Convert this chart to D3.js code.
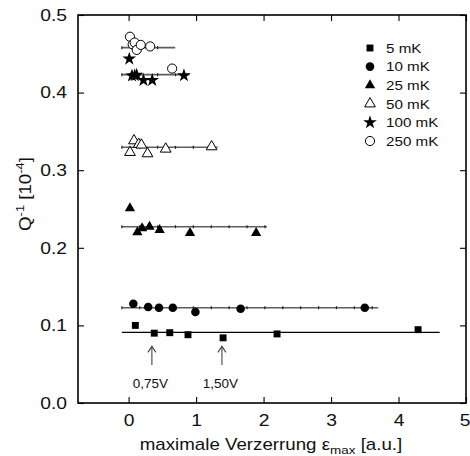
<!DOCTYPE html>
<html>
<head>
<meta charset="utf-8">
<script src="https://cdn.jsdelivr.net/npm/d3@7"></script>
<style>
  body { margin: 0; background: #fff; }
  svg { display: block; }
  text { font-family: "Liberation Sans", Arial, Helvetica, sans-serif; fill: #111; }
</style>
</head>
<body>
<svg id="chart" width="470" height="456"></svg>
<script>
// Internal friction Q^-1 versus maximum strain, one series per temperature
const tempLabels = ["5 mK", "10 mK", "25 mK", "50 mK", "100 mK", "250 mK"];

const strain5   = [0.10, 0.38, 0.61, 0.88, 1.40, 2.20, 4.29];
const q5        = [0.100, 0.090, 0.0906, 0.088, 0.084, 0.089, 0.0945];
const strain10  = [0.07, 0.29, 0.45, 0.655, 0.99, 1.66, 3.50];
const q10       = [0.128, 0.1237, 0.1228, 0.1228, 0.1173, 0.1215, 0.1228];
const strain25  = [0.02, 0.13, 0.20, 0.31, 0.46, 0.91, 1.89];
const q25       = [0.251, 0.220, 0.2251, 0.2272, 0.223, 0.2190, 0.2190];
const strain50  = [0.02, 0.08, 0.15, 0.19, 0.28, 0.55, 1.23];
const q50       = [0.323, 0.338, 0.3334, 0.3325, 0.3213, 0.3273, 0.3303];
const strain100 = [0.01, 0.05, 0.09, 0.12, 0.22, 0.35, 0.82];
const q100      = [0.4435, 0.4218, 0.4222, 0.4227, 0.4160, 0.4160, 0.4220];
const strain250 = [0.02, 0.06, 0.09, 0.12, 0.18, 0.32, 0.645];
const q250      = [0.472, 0.4622, 0.4645, 0.455, 0.4615, 0.4595, 0.4310];

// horizontal mean-value lines per temperature
const fitLevel = [0.0911, 0.1228, 0.2272, 0.3295, 0.4231, 0.4579];
const fitStart = [-0.1, -0.1, -0.1, -0.1, -0.1, -0.1];
const fitEnd   = [4.61, 3.70, 2.05, 1.32, 0.90, 0.69];

const xTicks = [0, 1, 2, 3, 4, 5];
const yTicks = [0.0, 0.1, 0.2, 0.3, 0.4, 0.5];

// drive-voltage markers
const arrowX      = [0.345, 1.383];
const arrowLabels = ["0,75V", "1,50V"];

const seriesX = [strain5, strain10, strain25, strain50, strain100, strain250];
const seriesY = [q5, q10, q25, q50, q100, q250];

const symbolTypes = [d3.symbolSquare, d3.symbolCircle, d3.symbolTriangle,
                     d3.symbolTriangle, d3.symbolStar, d3.symbolCircle];
const symbolSizes = [48, 58, 46, 50, 58, 66];
const symbolFilled = [true, true, true, false, true, false];

const svg = d3.select("#chart");
const margin = { left: 78, right: 4, top: 15, bottom: 53 };
const W = 470, H = 456;

const x = d3.scaleLinear().domain([-0.75, 5]).range([margin.left, W - margin.right]);
const y = d3.scaleLinear().domain([0, 0.5]).range([H - margin.bottom, margin.top]);

// the lettering is a slightly widened Helvetica-style face
const stretch = 1.17;
const tickFont = 16.5;
const titleFont = 16;

// frame
svg.append("rect")
  .attr("x", x(-0.75)).attr("y", y(0.5))
  .attr("width", x(5) - x(-0.75)).attr("height", y(0) - y(0.5))
  .attr("fill", "none").attr("stroke", "#000").attr("stroke-width", 1.6);

// axes with inward ticks
function styleAxis(g, showLabels, pad) {
  g.select(".domain").remove();
  g.selectAll(".tick line").attr("stroke", "#000").attr("stroke-width", 1.1);
  if (!showLabels) { g.selectAll(".tick text").remove(); return; }
  g.selectAll(".tick text")
    .attr("font-size", tickFont).attr("fill", "#111")
    .attr("font-family", '"Liberation Sans", Arial, sans-serif')
    .attr("transform", `scale(${stretch},1)`);
  if (pad) g.selectAll(".tick text").attr("x", -pad / stretch);
}

svg.append("g").attr("transform", `translate(0,${y(0)})`)
  .call(d3.axisBottom(x).tickValues(xTicks).tickFormat(d3.format("d"))
        .tickSizeInner(-6).tickSizeOuter(0).tickPadding(11))
  .call(g => styleAxis(g, true, 0))
  .call(g => g.selectAll(".tick text").filter(d => d === 5).attr("x", -1.2));

svg.append("g").attr("transform", `translate(0,${y(0.5)})`)
  .call(d3.axisTop(x).tickValues(xTicks).tickSizeInner(-6).tickSizeOuter(0))
  .call(g => styleAxis(g, false));

svg.append("g").attr("transform", `translate(${x(-0.75)},0)`)
  .call(d3.axisLeft(y).tickValues(yTicks).tickFormat(d3.format(".1f"))
        .tickSizeInner(-6).tickSizeOuter(0).tickPadding(11))
  .call(g => styleAxis(g, true, 11));

svg.append("g").attr("transform", `translate(${x(5)},0)`)
  .call(d3.axisRight(y).tickValues(yTicks).tickSizeInner(-6).tickSizeOuter(0))
  .call(g => styleAxis(g, false));

// axis titles
const xTitle = svg.append("g").attr("transform", `translate(271,450) scale(${stretch},1)`)
  .append("text").attr("text-anchor", "middle").attr("font-size", titleFont);
xTitle.append("tspan").text("maximale Verzerrung ε");
xTitle.append("tspan").attr("font-size", 11.5).attr("dy", 4).text("max");
xTitle.append("tspan").attr("dy", -4).text(" [a.u.]");

const yTitle = svg.append("g").attr("transform", `translate(31,194) rotate(-90) scale(${stretch},1)`)
  .append("text").attr("text-anchor", "middle").attr("font-size", titleFont);
yTitle.append("tspan").text("Q");
yTitle.append("tspan").attr("font-size", 11).attr("dy", -7).text("-1");
yTitle.append("tspan").attr("dy", 7).text(" [10");
yTitle.append("tspan").attr("font-size", 11).attr("dy", -7).text("-4");
yTitle.append("tspan").attr("dy", 7).text("]");

// mean-value lines with small marks along them
const tickStep = 0.265;
fitLevel.forEach((lvl, i) => {
  const g = svg.append("g");
  g.append("line")
    .attr("x1", x(fitStart[i])).attr("x2", x(fitEnd[i]))
    .attr("y1", y(lvl)).attr("y2", y(lvl))
    .attr("stroke", i === 0 ? "#000" : "#5e5e5e")
    .attr("stroke-width", i === 0 ? 1.3 : 1.6);
  if (i > 0) {
    const marks = d3.range(fitStart[i], fitEnd[i], tickStep);
    g.selectAll("line.mk").data(marks).join("line").attr("class", "mk")
      .attr("x1", d => x(d)).attr("x2", d => x(d))
      .attr("y1", y(lvl) - 1.5).attr("y2", y(lvl) + 1.5)
      .attr("stroke", "#222").attr("stroke-width", 1.2);
  }
});

// data points
seriesX.forEach((xs, i) => {
  const pts = xs.map((v, j) => [v, seriesY[i][j]]);
  const sym = d3.symbol().type(symbolTypes[i]).size(symbolSizes[i]);
  svg.append("g").selectAll("path").data(pts).join("path")
    .attr("d", sym)
    .attr("transform", d => `translate(${x(d[0])},${y(d[1])})`)
    .attr("fill", symbolFilled[i] ? "#000" : "#fff")
    .attr("stroke", "#000")
    .attr("stroke-width", symbolFilled[i] ? 0 : 1);
});

// legend
const legend = svg.append("g");
tempLabels.forEach((lab, i) => {
  const ly = 48 + i * 18.6;
  legend.append("path")
    .attr("d", d3.symbol().type(symbolTypes[i]).size(symbolSizes[i])())
    .attr("transform", `translate(370,${ly})`)
    .attr("fill", symbolFilled[i] ? "#000" : "#fff")
    .attr("stroke", "#000")
    .attr("stroke-width", symbolFilled[i] ? 0 : 1);
  legend.append("g").attr("transform", `translate(386,${ly + 4.7}) scale(${stretch},1)`)
    .append("text").attr("font-size", 13).text(lab);
});

// voltage arrows
arrowX.forEach((ax, i) => {
  const g = svg.append("g").attr("stroke", "#444").attr("fill", "none").attr("stroke-width", 1.1);
  const xp = x(ax), yTop = y(0.073), yBot = y(0.049);
  g.append("line").attr("x1", xp).attr("x2", xp).attr("y1", yTop).attr("y2", yBot);
  g.append("path").attr("d", `M${xp - 4},${yTop + 6} L${xp},${yTop} L${xp + 4},${yTop + 6}`);
  svg.append("text")
    .attr("x", xp - 1.5).attr("y", y(0.0195))
    .attr("text-anchor", "middle").attr("font-size", 13.5).text(arrowLabels[i]);
});
</script>
</body>
</html>
